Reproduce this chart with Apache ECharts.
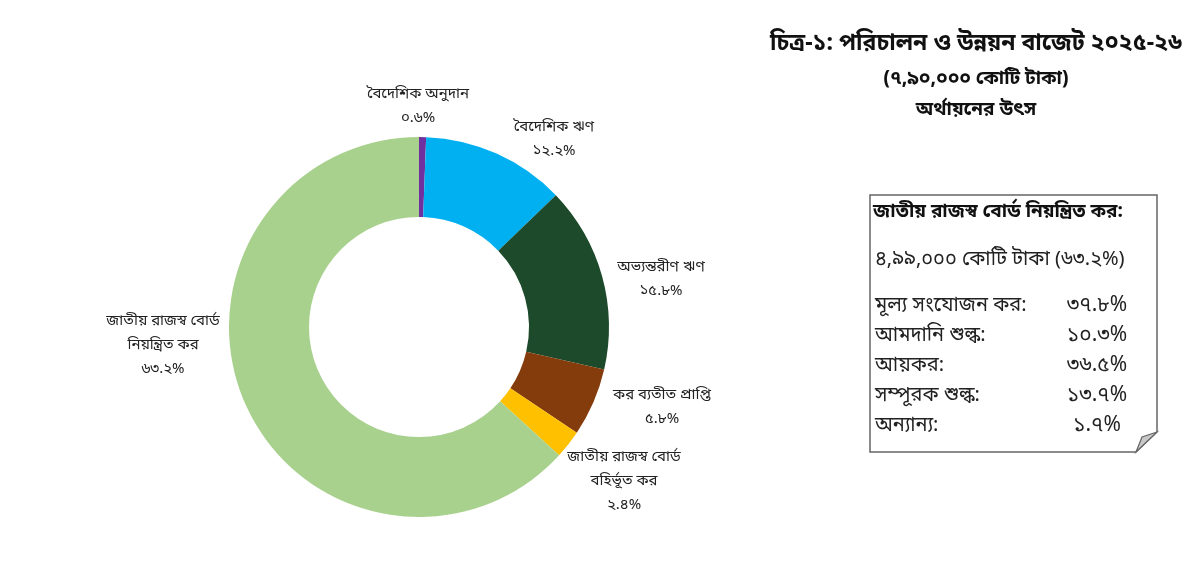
<!DOCTYPE html>
<html lang="bn">
<head>
<meta charset="UTF-8">
<title>পরিচালন ও উন্নয়ন বাজেট ২০২৫-২৬</title>
<script src="https://cdn.jsdelivr.net/npm/echarts@6/dist/echarts.min.js"></script>
<style>
    html, body { margin: 0; padding: 0; background: #fff; }
    #chart { width: 1200px; height: 577px; }
</style>
</head>
<body>
<div id="chart"></div>
<script>
    // উৎস অনুযায়ী অংশ (%), ১২টা থেকে ঘড়ির কাঁটার দিকে
    var sourceNames = [
        'বৈদেশিক অনুদান',
        'বৈদেশিক ঋণ',
        'অভ্যন্তরীণ ঋণ',
        'কর ব্যতীত প্রাপ্তি',
        'জাতীয় রাজস্ব বোর্ড\nবহির্ভূত কর',
        'জাতীয় রাজস্ব বোর্ড\nনিয়ন্ত্রিত কর'
    ];
    var sourceShares = [0.6, 12.2, 15.8, 5.8, 2.4, 63.2];
    var sourceColors = ['#7030a0', '#00b0f0', '#1d4a2b', '#843c0c', '#ffc000', '#a9d18e'];

    // জাতীয় রাজস্ব বোর্ড নিয়ন্ত্রিত কর - বিভাজন
    var nbrItems = ['মূল্য সংযোজন কর:', 'আমদানি শুল্ক:', 'আয়কর:', 'সম্পূরক শুল্ক:', 'অন্যান্য:'];
    var nbrShares = [37.8, 10.3, 36.5, 13.7, 1.7];
    var nbrTotal = '৪,৯৯,০০০ কোটি টাকা (৬৩.২%)';

    var titleLines = ['চিত্র-১: পরিচালন ও উন্নয়ন বাজেট ২০২৫-২৬', '(৭,৯০,০০০ কোটি টাকা)', 'অর্থায়নের উৎস'];

    var FONT = "'Noto Sans Bengali', 'Noto Sans', sans-serif";
    var bnDigits = ['০', '১', '২', '৩', '৪', '৫', '৬', '৭', '৮', '৯'];

    function toBn(s) {
        return String(s).replace(/[0-9]/g, function (d) { return bnDigits[+d]; });
    }

    function pct(v) {
        return toBn(v.toFixed(1)) + '%';
    }

    // লেবেলের কেন্দ্র (পিক্সেল)
    var labelCenters = [[418, 107], [554, 140], [661, 280], [662, 408], [624, 482], [163, 346]];

    var pieData = [];
    for (var i = 0; i < sourceNames.length; i++) {
        pieData.push({ name: sourceNames[i], value: sourceShares[i], itemStyle: { color: sourceColors[i] } });
    }

    var graphics = [];
    // বাক্স, নিচের ডান কোণ ভাঁজ করা
    graphics.push({
        type: 'polygon',
        shape: { points: [[870, 195], [1157, 195], [1157, 432], [1136, 452], [870, 452]] },
        style: { fill: '#fff', stroke: '#666', lineWidth: 1.5 }
    });
    graphics.push({
        type: 'polygon',
        shape: { points: [[1157, 432], [1142, 437], [1136, 452]] },
        style: { fill: '#c8c8c8', stroke: '#666', lineWidth: 1.2 }
    });
    graphics.push({
        type: 'text', x: 873, y: 213,
        style: { text: 'জাতীয় রাজস্ব বোর্ড নিয়ন্ত্রিত কর:', font: 'bold 19px ' + FONT, fill: '#111', verticalAlign: 'middle' }
    });
    graphics.push({
        type: 'text', x: 875, y: 261,
        style: { text: nbrTotal, font: '20px ' + FONT, fill: '#222', verticalAlign: 'middle' }
    });
    var rowY = [307, 337, 367, 397, 427];
    for (var j = 0; j < nbrItems.length; j++) {
        graphics.push({
            type: 'text', x: 875, y: rowY[j],
            style: { text: nbrItems[j], font: '20px ' + FONT, fill: '#222', verticalAlign: 'middle' }
        });
        graphics.push({
            type: 'text', x: 1097, y: rowY[j],
            style: { text: pct(nbrShares[j]), font: '21px ' + FONT, fill: '#222', align: 'center', verticalAlign: 'middle' }
        });
    }

    var chart = echarts.init(document.getElementById('chart'));
    chart.setOption({
        backgroundColor: '#fff',
        animation: false,
        title: [
            { text: titleLines[0], left: 971, top: 29, textAlign: 'center',
              textStyle: { fontFamily: FONT, fontSize: 23, fontWeight: 'bold', color: '#111' } },
            { text: titleLines[1], left: 971, top: 66, textAlign: 'center',
              textStyle: { fontFamily: FONT, fontSize: 19, fontWeight: 'bold', color: '#111' } },
            { text: titleLines[2], left: 971, top: 97, textAlign: 'center',
              textStyle: { fontFamily: FONT, fontSize: 19, fontWeight: 'bold', color: '#111' } }
        ],
        series: [{
            type: 'pie',
            center: [419, 327],
            radius: [110, 190],
            startAngle: 90,
            clockwise: true,
            avoidLabelOverlap: false,
            itemStyle: { borderWidth: 0 },
            label: {
                show: true,
                position: 'outside',
                fontFamily: FONT,
                fontSize: 15,
                lineHeight: 24,
                color: '#222',
                align: 'center',
                formatter: function (p) {
                    return p.name + '\n' + pct(p.value);
                }
            },
            labelLine: { show: false },
            labelLayout: function (p) {
                var c = labelCenters[p.dataIndex];
                return { x: c[0], y: c[1], align: 'center', verticalAlign: 'middle' };
            },
            emphasis: { disabled: true },
            data: pieData
        }],
        graphic: graphics
    });
</script>
</body>
</html>
